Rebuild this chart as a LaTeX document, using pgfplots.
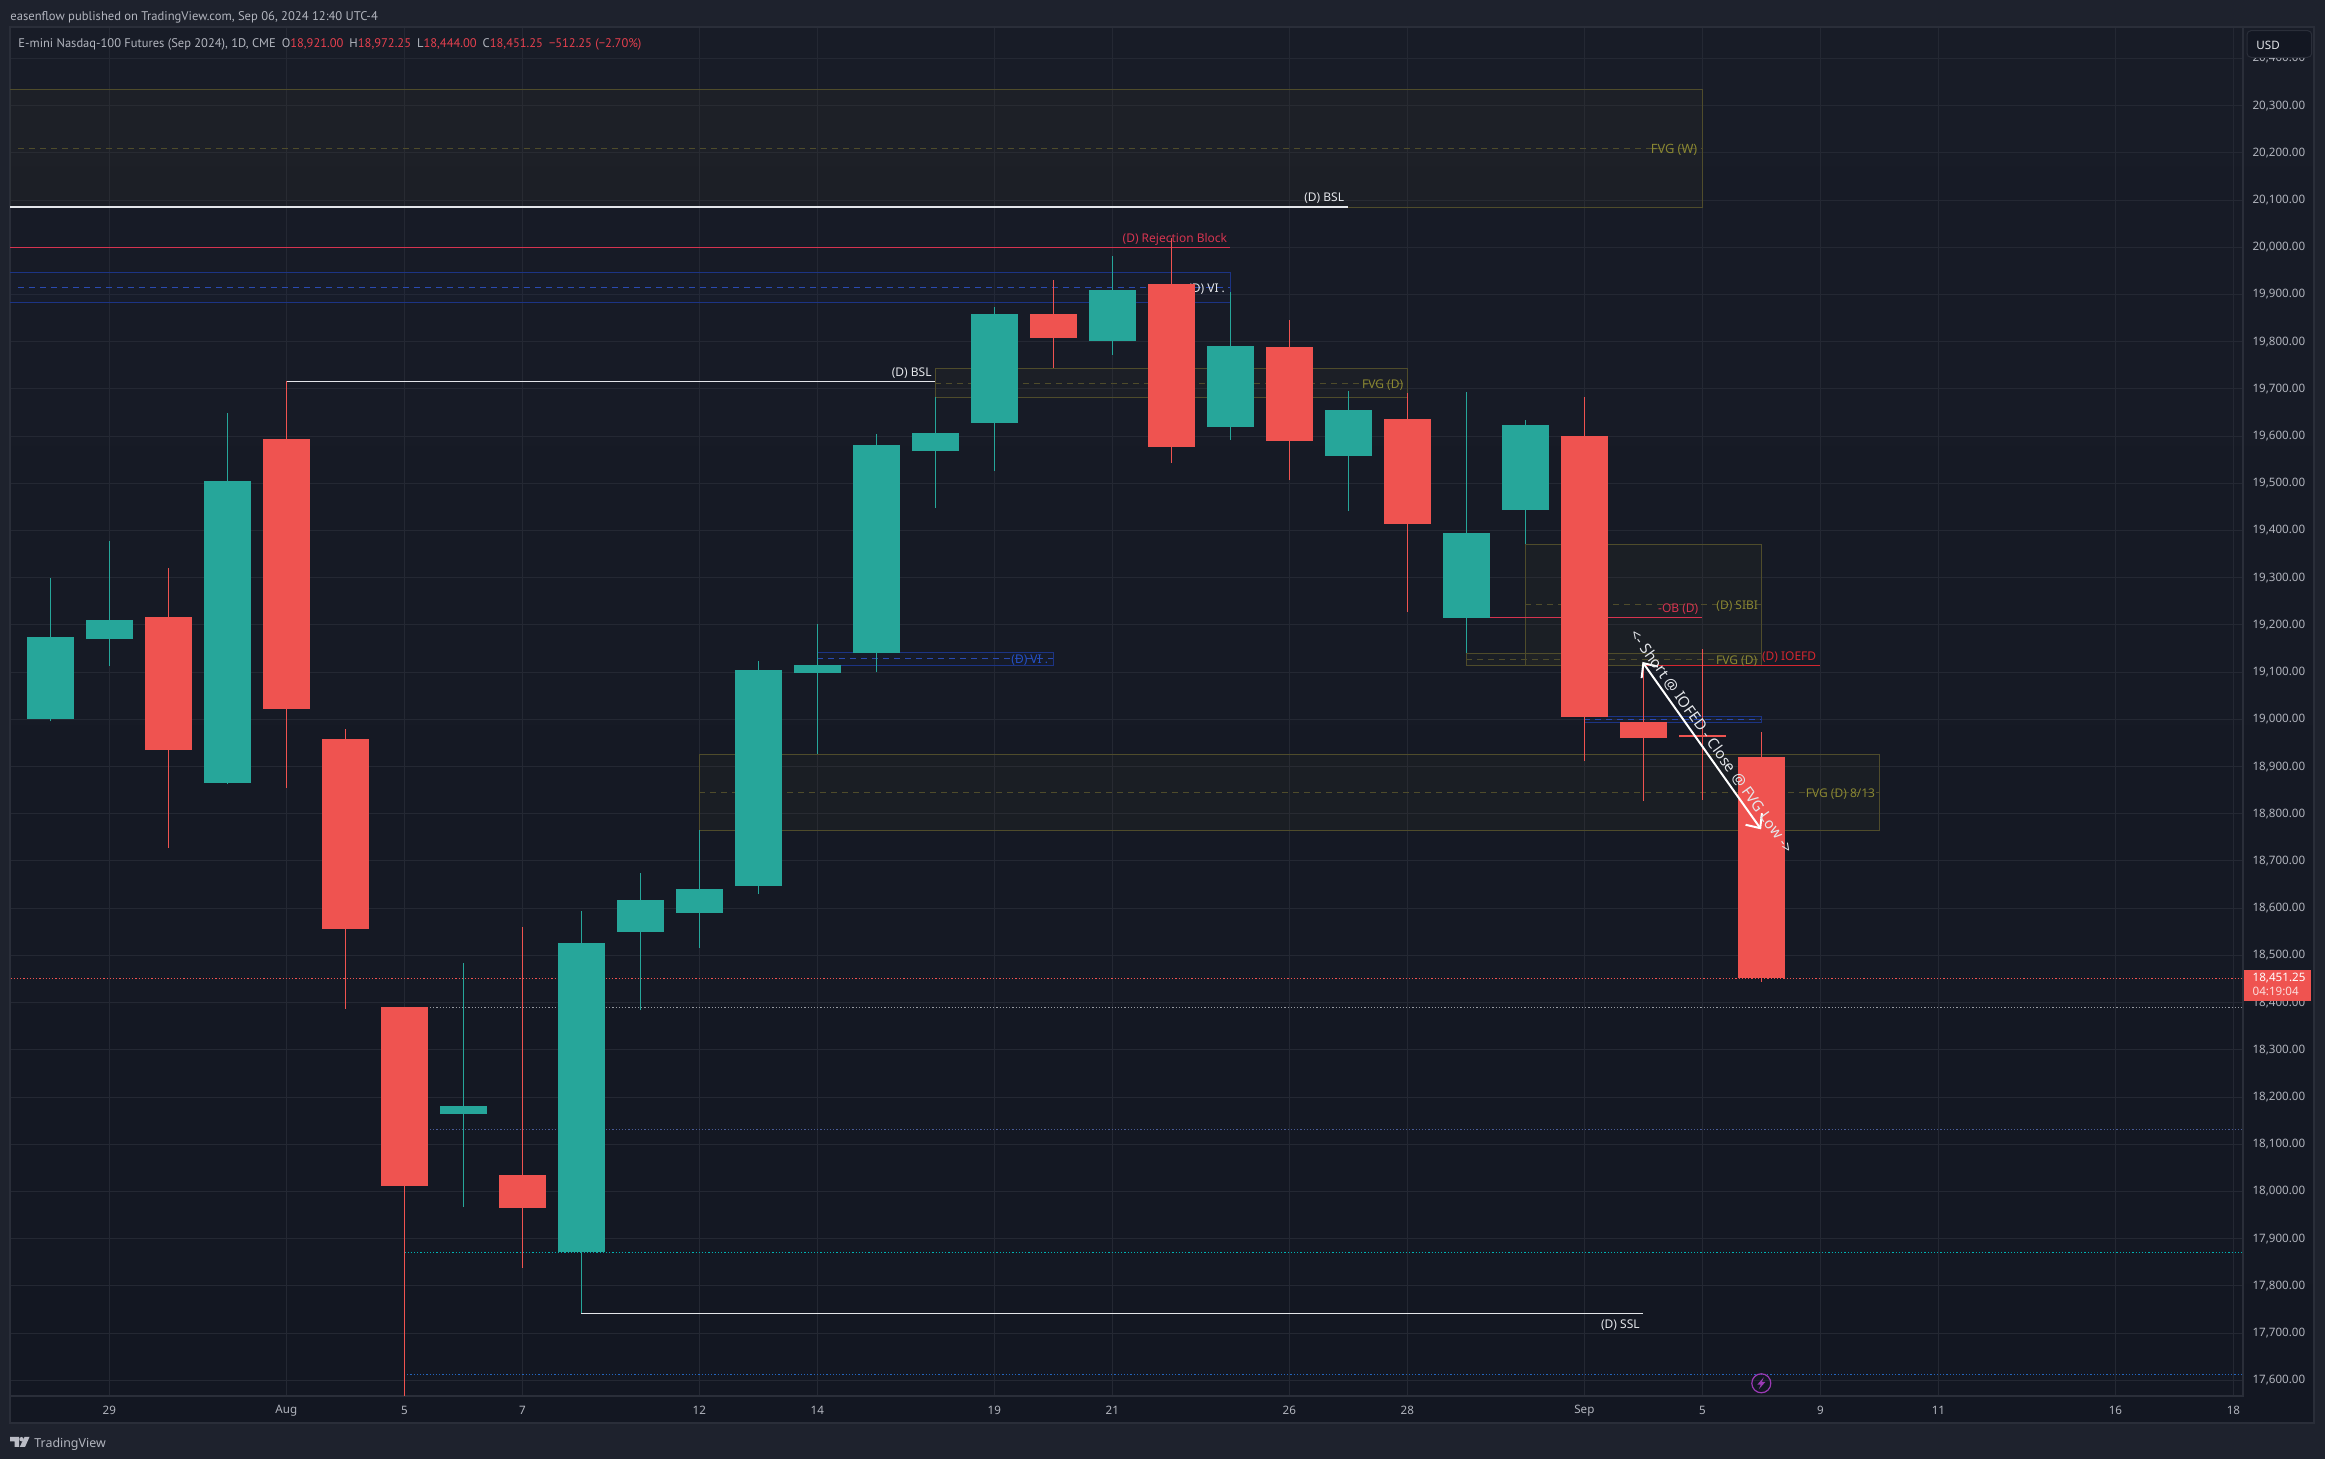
\documentclass[border=0pt]{standalone}
\usepackage{fontspec}
\usepackage{pgfplots}
\pgfplotsset{compat=1.18}
\usepackage{pgfplotstable}
\usetikzlibrary{arrows.meta}
\setmainfont{Noto Sans}
\newfontfamily\ub{PT Sans}
\definecolor{outer}{HTML}{1E222D}
\definecolor{paneltop}{HTML}{181C27}
\definecolor{panelbot}{HTML}{131722}
\definecolor{gridc}{HTML}{242833}
\definecolor{framec}{HTML}{2A2E39}
\definecolor{upc}{HTML}{26A69A}
\definecolor{downc}{HTML}{EF5350}
\definecolor{txt}{HTML}{B2B5BE}
\definecolor{fvgc}{HTML}{4F4C2B}
\definecolor{fvgt}{HTML}{8A8732}
\definecolor{vic}{HTML}{1C3484}
\definecolor{vid}{HTML}{2A4AB0}
\definecolor{vit}{HTML}{2450C8}
\definecolor{rej}{HTML}{D63450}
\definecolor{ioe}{HTML}{D4262F}
\definecolor{wht}{HTML}{E4E6EA}
\definecolor{hdr}{HTML}{E5404E}
\definecolor{evt}{HTML}{9C3AB5}

% x (bar number), open, high, low, close
\pgfplotstableread{
x open high low close
0 19001 19299 18996 19174
1 19170 19378 19113 19210
3 18865 19649 18863 19505
7 18164 18484 17967 18181
9 17872 18594 17742 18526
10 18550 18674 18384 18617
11 18590 18765 18516 18641
12 18647 19123 18630 19104
13 19098 19203 18926 19115
14 19141 19604 19100 19581
15 19568 19682 19448 19607
16 19628 19873 19526 19859
18 19802 19982 19772 19910
20 19619 19905 19592 19791
22 19558 19696 19441 19655
24 19215 19693 19140 19395
25 19443 19634 19371 19623
}\upbars
\pgfplotstableread{
x open high low close
2 19217 19321 18728 18935
4 19594 19717 18855 19022
5 18958 18980 18387 18556
6 18391 18391 17567 18012
8 18035 18560 17838 17965
17 19859 19931 19745 19808
19 19922 20019 19544 19577
21 19789 19846 19507 19590
23 19636 19691 19227 19414
26 19600 19683 18912 19005
27 18994 19119 18828 18960
28 18966 19150 18830 18962
29 18921 18972.25 18444 18451.25
}\downbars

\pgfplotsset{
  bx/.style={draw=#1, fill=#1, fill opacity=0.10, draw opacity=1, line width=0.5pt, mark=none},
  bxb/.style={draw=#1, fill=#1, fill opacity=0.05, draw opacity=1, line width=0.5pt, mark=none},
  dsh/.style={draw=#1, line width=0.5pt, dash pattern=on 3pt off 2.5pt, mark=none},
  sld/.style={draw=#1, line width=0.6pt, mark=none},
  dot/.style={draw=#1, line width=0.55pt, dash pattern=on 0.6pt off 1pt, mark=none},
}
\newcommand\lab[5]{\addplot[draw=none, mark=none] coordinates {(#1,#2)} node[font=\fontsize{6pt}{7pt}\selectfont, text=#3, inner sep=0pt, yshift=-0.7pt, #4] {#5};}

\begin{document}
\begin{tikzpicture}
\begin{scope}[x=0.5pt,y=-0.5pt,yshift=729.5pt]
\path[use as bounding box, fill=outer] (0,0) rectangle (2325,1459);
\shade[top color=paneltop, bottom color=panelbot] (10,27) rectangle (2314,1423);
\draw[framec, line width=0.8pt] (10,27) rectangle (2314,1423);
\end{scope}

\begin{axis}[
  at={(5pt,31.5pt)}, anchor=south west,
  scale only axis, width=1116.5pt, height=684.5pt,
  xmin=-0.6831, xmax=37.164, ymin=17566.8, ymax=20466.6,
  axis line style={draw=framec, line width=0.7pt},
  grid=major, major grid style={draw=gridc, line width=0.5pt},
  tick style={draw=none}, major tick length=0pt,
  xtick={1,4,6,8,11,13,16,18,21,23,26,28,30,32,35,37},
  xticklabels={29,\textbf{Aug},5,7,12,14,19,21,26,28,\textbf{Sep},5,9,11,16,18},
  ytick={17600,17700,...,20400},
  yticklabel pos=right,
  scaled y ticks=false,
  xticklabel style={anchor=center, yshift=-7.35pt, inner sep=0pt, font=\fontsize{5.8pt}{7pt}\selectfont, text=txt},
  yticklabel style={anchor=west, inner sep=0pt, xshift=4.5pt, yshift=0pt, font=\fontsize{5.8pt}{7pt}\selectfont, text=txt,
    /pgf/number format/fixed, /pgf/number format/fixed zerofill, /pgf/number format/precision=2, /pgf/number format/1000 sep={,}, /pgf/number format/assume math mode=true},
]
% zones
\addplot[bx=fvgc] coordinates {(-1,20334.7)(28,20334.7)(28,20084.7)(-1,20084.7)(-1,20334.7)};
\addplot[dsh=fvgc] coordinates {(-0.55,20210)(28,20210)};
\addplot[bxb=vic] coordinates {(-1,19947)(20,19947)(20,19883.5)(-1,19883.5)(-1,19947)};
\addplot[dsh=vid] coordinates {(-0.55,19915)(20,19915)};
\addplot[bx=fvgc] coordinates {(15,19742.4)(23,19742.4)(23,19682)(15,19682)(15,19742.4)};
\addplot[dsh=fvgc] coordinates {(15,19712)(23,19712)};
\addplot[bxb=vic] coordinates {(13,19142.4)(17,19142.4)(17,19114)(13,19114)(13,19142.4)};
\addplot[dsh=vid] coordinates {(13,19129)(17,19129)};
\addplot[bx=fvgc] coordinates {(11,18926.6)(31,18926.6)(31,18765)(11,18765)(11,18926.6)};
\addplot[dsh=fvgc] coordinates {(11,18845)(31,18845)};
\addplot[bx=fvgc] coordinates {(25,19371)(29,19371)(29,19114.6)(25,19114.6)(25,19371)};
\addplot[dsh=fvgc] coordinates {(25,19244)(29,19244)};
\addplot[bx=fvgc] coordinates {(24,19140)(29,19140)(29,19114.6)(24,19114.6)(24,19140)};
\addplot[dsh=fvgc] coordinates {(24,19127)(29,19127)};
\addplot[bxb=vic] coordinates {(26,19007)(29,19007)(29,18993)(26,18993)(26,19007)};
\addplot[dsh=vid] coordinates {(26,19000)(29,19000)};
% levels
\addplot[sld=wht, line width=0.8pt] coordinates {(-1,20084.7)(22,20084.7)};
\addplot[sld=rej] coordinates {(-1,20000)(20,20000)};
\addplot[sld=wht, line width=0.7pt] coordinates {(4,19716.2)(15,19716.2)};
\addplot[sld=rej] coordinates {(24,19216)(28,19216)};
\addplot[sld=ioe] coordinates {(27,19114.6)(30,19114.6)};
\addplot[sld=wht, line width=0.7pt] coordinates {(9,17742)(27,17742)};
\addplot[dot=downc] coordinates {(-1,18451.25)(38,18451.25)};
\addplot[dot=txt!85!black] coordinates {(6,18390)(38,18390)};
\addplot[dot=vic!70!txt] coordinates {(6,18131.8)(38,18131.8)};
\addplot[dot=teal!60!cyan] coordinates {(6,17871.2)(38,17871.2)};
\addplot[dot=vid!85!cyan] coordinates {(6.05,17612.8)(38,17612.8)};
% zone and level labels
\lab{27.52}{20210}{fvgt}{font=\fontsize{6.4pt}{7pt}\selectfont\bfseries}{FVG (W)}
\lab{21.59}{20106.5}{wht}{}{(D) BSL}
\lab{19.06}{20020.3}{rej}{}{(D) Rejection Block}
\lab{19.28}{19914.4}{wht}{anchor=west}{(D) VI .}
\lab{14.6}{19737.1}{wht}{}{(D) BSL}
\lab{22.58}{19711.1}{fvgt}{}{FVG (D)}
\lab{16.6}{19129}{vit}{}{(D) VI .}
\lab{30.34}{18845.6}{fvgt}{}{FVG (D) 8/13}
\lab{28.59}{19243}{fvgt}{}{(D) SIBI}
\lab{28.58}{19127}{fvgt}{}{FVG (D)}
\lab{27.59}{19237.5}{rej}{}{-OB (D)}
\lab{29.47}{19135}{ioe}{}{(D) IOEFD}
\lab{26.61}{17720}{wht}{}{(D) SSL}
% wicks
\addplot[draw=none, mark=none, error bars/.cd, y dir=plus, y explicit, error mark=none,
  error bar style={draw=upc, line width=0.6pt}]
  table[x=x, y=low, y error expr=\thisrow{high}-\thisrow{low}] {\upbars};
\addplot[draw=none, mark=none, error bars/.cd, y dir=plus, y explicit, error mark=none,
  error bar style={draw=downc, line width=0.6pt}]
  table[x=x, y=low, y error expr=\thisrow{high}-\thisrow{low}] {\downbars};
% bodies
\addplot[draw=none, mark=none, error bars/.cd, y dir=plus, y explicit, error mark=none,
  error bar style={draw=upc, line width=23.5pt}]
  table[x=x, y=open, y error expr=\thisrow{close}-\thisrow{open}] {\upbars};
\addplot[draw=none, mark=none, error bars/.cd, y dir=plus, y explicit, error mark=none,
  error bar style={draw=downc, line width=23.5pt}]
  table[x=x, y=close, y error expr=\thisrow{open}-\thisrow{close}] {\downbars};
% trade arrow and its text
\addplot[draw=white, line width=1pt, mark=none, arrows={Straight Barb[length=5.6pt,width=10pt]-Straight Barb[length=5.6pt,width=10pt]}]
  coordinates {(26.984,19121.6)(28.995,18767)};
\addplot[draw=none, mark=none] coordinates {(28.16,18953.6)}
  node[rotate=-54.6, inner sep=0pt, text=wht, font=\fontsize{7.5pt}{9pt}\selectfont\bfseries] {<- Short @ IOFED - Close @ FVG Low ->};
\end{axis}

\begin{scope}[x=0.5pt,y=-0.5pt,yshift=729.5pt]
% header
\node[anchor=west, inner sep=0pt, text=txt, font=\ub\fontsize{6.3pt}{8pt}\selectfont] at (10,17)
  {easenflow published on TradingView.com, Sep 06, 2024 12:40 UTC-4};
\node[anchor=west, inner sep=0pt, text=txt, font=\ub\fontsize{6.25pt}{8pt}\selectfont] at (18,44.2)
  {E-mini Nasdaq-100 Futures (Sep 2024), 1D, CME\hspace{3pt}O\textcolor{hdr}{18,921.00}\hspace{3pt}H\textcolor{hdr}{18,972.25}\hspace{3pt}L\textcolor{hdr}{18,444.00}\hspace{3pt}C\textcolor{hdr}{18,451.25}\hspace{3pt}\textcolor{hdr}{−512.25 (−2.70\%)}};
% currency box
\draw[framec, fill=panelbot, rounded corners=2pt, line width=0.5pt] (2247,30.7) rectangle (2311.7,57.3);
\node[anchor=west, inner sep=0pt, text=wht, font=\fontsize{5.8pt}{7pt}\selectfont] at (2256,45.7) {USD};
% last price tag
\fill[downc] (2244,970) rectangle (2311,1000.7);
\node[anchor=west, inner sep=0pt, text=white, font=\fontsize{5.8pt}{7pt}\selectfont] at (2252.3,977.6) {18,451.25};
\node[anchor=west, inner sep=0pt, text=white!80!downc, font=\fontsize{5.8pt}{7pt}\selectfont] at (2252.3,991.3) {04:19:04};
% event icon
\draw[draw=evt, line width=0.6pt] (1761.3,1383.3) circle (9.5);
\fill[evt] (1763.8,1377.3)--(1757.3,1384.6)--(1760.8,1384.6)--(1758.8,1389.3)--(1765.3,1382)--(1761.8,1382)--cycle;
% logo
\fill[txt!90!white] (10,1437)--(19,1437)--(19,1447)--(14.5,1447)--(14.5,1441.5)--(10,1441.5)--cycle;
\fill[txt!90!white] (21.5,1439.2) circle (2.2);
\fill[txt!90!white] (24.5,1437)--(29.5,1437)--(25,1447)--(19.7,1447)--cycle;
\node[anchor=west, inner sep=0pt, text=txt, font=\fontsize{6.2pt}{8pt}\selectfont] at (34,1444) {TradingView};
\end{scope}
\end{tikzpicture}
\end{document}
